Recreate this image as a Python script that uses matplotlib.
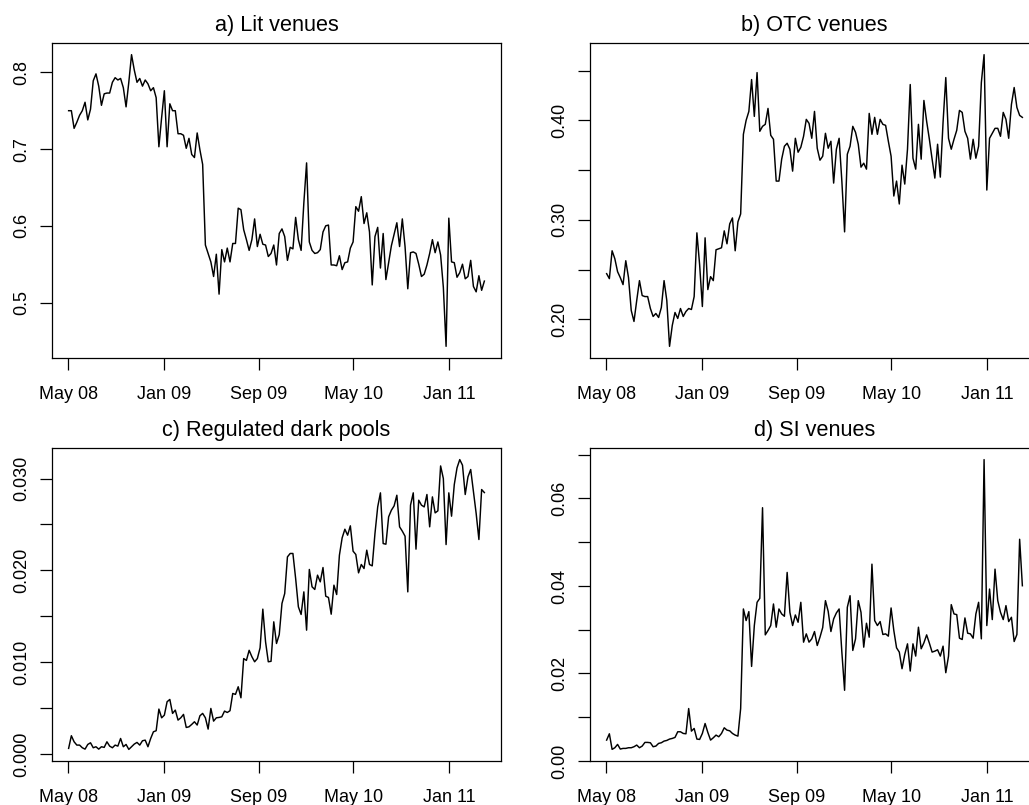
import numpy as np
import pandas as pd
import matplotlib
matplotlib.use("Agg")
import matplotlib.pyplot as plt
import matplotlib.transforms as mtransforms

plt.rcParams["font.family"] = ["Liberation Sans", "DejaVu Sans"]

# --- weekly market shares ---
lit = [0.750, 0.750, 0.727, 0.735, 0.744, 0.750, 0.761, 0.738, 0.752, 0.789,
       0.798, 0.782, 0.757, 0.772, 0.773, 0.773, 0.787, 0.793, 0.790, 0.792,
       0.780, 0.755, 0.787, 0.823, 0.803, 0.787, 0.792, 0.782, 0.790, 0.785,
       0.776, 0.780, 0.767, 0.703, 0.741, 0.776, 0.703, 0.759, 0.750, 0.750,
       0.720, 0.720, 0.718, 0.701, 0.714, 0.693, 0.689, 0.721, 0.699, 0.680,
       0.575, 0.564, 0.553, 0.534, 0.563, 0.511, 0.569, 0.553, 0.571, 0.553,
       0.577, 0.577, 0.623, 0.621, 0.595, 0.582, 0.568, 0.582, 0.609, 0.573,
       0.589, 0.576, 0.575, 0.560, 0.564, 0.575, 0.549, 0.590, 0.596, 0.586,
       0.555, 0.572, 0.570, 0.611, 0.582, 0.568, 0.630, 0.682, 0.579, 0.568,
       0.564, 0.565, 0.569, 0.592, 0.600, 0.601, 0.549, 0.549, 0.548, 0.561,
       0.543, 0.552, 0.553, 0.571, 0.579, 0.625, 0.619, 0.638, 0.603, 0.617,
       0.592, 0.523, 0.586, 0.598, 0.545, 0.590, 0.530, 0.552, 0.574, 0.589,
       0.604, 0.573, 0.609, 0.573, 0.518, 0.565, 0.566, 0.564, 0.550, 0.534,
       0.537, 0.549, 0.564, 0.582, 0.565, 0.579, 0.562, 0.520, 0.443, 0.610,
       0.553, 0.552, 0.533, 0.539, 0.550, 0.531, 0.534, 0.555, 0.521, 0.514,
       0.535, 0.516, 0.528]

otc = [0.246, 0.241, 0.269, 0.261, 0.248, 0.242, 0.235, 0.259, 0.242, 0.209,
       0.198, 0.219, 0.239, 0.224, 0.223, 0.223, 0.211, 0.203, 0.206, 0.202,
       0.212, 0.239, 0.219, 0.173, 0.194, 0.207, 0.201, 0.211, 0.203, 0.208,
       0.211, 0.210, 0.223, 0.287, 0.255, 0.213, 0.282, 0.230, 0.243, 0.239,
       0.270, 0.271, 0.272, 0.289, 0.276, 0.296, 0.302, 0.269, 0.298, 0.306,
       0.386, 0.400, 0.409, 0.441, 0.404, 0.448, 0.389, 0.394, 0.396, 0.412,
       0.385, 0.381, 0.339, 0.339, 0.361, 0.374, 0.377, 0.371, 0.349, 0.382,
       0.368, 0.373, 0.384, 0.401, 0.397, 0.382, 0.409, 0.372, 0.360, 0.364,
       0.387, 0.372, 0.379, 0.337, 0.371, 0.382, 0.339, 0.288, 0.366, 0.374,
       0.394, 0.388, 0.376, 0.353, 0.357, 0.351, 0.407, 0.386, 0.403, 0.386,
       0.401, 0.396, 0.395, 0.379, 0.364, 0.324, 0.339, 0.316, 0.355, 0.336,
       0.371, 0.436, 0.362, 0.351, 0.396, 0.361, 0.420, 0.399, 0.381, 0.361,
       0.342, 0.376, 0.343, 0.398, 0.443, 0.382, 0.371, 0.381, 0.390, 0.410,
       0.408, 0.389, 0.382, 0.361, 0.381, 0.362, 0.374, 0.438, 0.466, 0.330,
       0.382, 0.387, 0.392, 0.392, 0.384, 0.408, 0.401, 0.382, 0.416, 0.433,
       0.413, 0.405, 0.403]

dark = [0.00062, 0.00200, 0.00134, 0.00098, 0.00098, 0.00069, 0.00054, 0.00105, 0.00123, 0.00069,
        0.00080, 0.00054, 0.00080, 0.00073, 0.00134, 0.00087, 0.00069, 0.00098, 0.00087, 0.00170,
        0.00080, 0.00105, 0.00051, 0.00080, 0.00109, 0.00127, 0.00098, 0.00145, 0.00152, 0.00080,
        0.00170, 0.00243, 0.00254, 0.00490, 0.00395, 0.00424, 0.00570, 0.00595, 0.00443, 0.00479,
        0.00370, 0.00395, 0.00432, 0.00290, 0.00297, 0.00323, 0.00352, 0.00316, 0.00417, 0.00443,
        0.00395, 0.00272, 0.00497, 0.00359, 0.00395, 0.00399, 0.00406, 0.00468, 0.00453, 0.00472,
        0.00660, 0.00650, 0.00733, 0.00613, 0.01040, 0.01020, 0.01130, 0.01060, 0.01005, 0.01040,
        0.01157, 0.01578, 0.01222, 0.01005, 0.01010, 0.01440, 0.01204, 0.01300, 0.01640, 0.01748,
        0.02147, 0.02184, 0.02184, 0.01911, 0.01603, 0.01520, 0.01766, 0.01349, 0.02010, 0.01821,
        0.01792, 0.01948, 0.01875, 0.02031, 0.01719, 0.01705, 0.01523, 0.01839, 0.01737, 0.02165,
        0.02354, 0.02448, 0.02383, 0.02485, 0.02209, 0.02173, 0.01973, 0.02064, 0.02020, 0.02220,
        0.02064, 0.02049, 0.02401, 0.02691, 0.02844, 0.02292, 0.02285, 0.02583, 0.02655, 0.02702,
        0.02818, 0.02474, 0.02427, 0.02372, 0.01766, 0.02710, 0.02844, 0.02231, 0.02764, 0.02710,
        0.02691, 0.02826, 0.02474, 0.02800, 0.02626, 0.02648, 0.03137, 0.03000, 0.02281, 0.02844,
        0.02590, 0.02934, 0.03116, 0.03206, 0.03145, 0.02826, 0.03018, 0.03098, 0.02855, 0.02619,
        0.02336, 0.02880, 0.02847]

si = [0.00478, 0.00622, 0.00266, 0.00303, 0.00379, 0.00273, 0.00288, 0.00288, 0.00303, 0.00303,
      0.00326, 0.00364, 0.00303, 0.00341, 0.00425, 0.00425, 0.00417, 0.00326, 0.00341, 0.00402,
      0.00417, 0.00455, 0.00470, 0.00501, 0.00516, 0.00539, 0.00668, 0.00668, 0.00630, 0.00622,
      0.01199, 0.00683, 0.00744, 0.00501, 0.00493, 0.00630, 0.00857, 0.00653, 0.00478, 0.00531,
      0.00592, 0.00554, 0.00630, 0.00759, 0.00706, 0.00690, 0.00630, 0.00592, 0.00569, 0.01199,
      0.03475, 0.03210, 0.03414, 0.02162, 0.03096, 0.03627, 0.03718, 0.05789, 0.02883, 0.02982,
      0.03096, 0.03589, 0.03058, 0.03475, 0.03361, 0.03308, 0.04310, 0.03399, 0.03096, 0.03338,
      0.03171, 0.03627, 0.02716, 0.02906, 0.02716, 0.02792, 0.02959, 0.02640, 0.02830, 0.03050,
      0.03665, 0.03422, 0.02959, 0.03247, 0.03384, 0.03475, 0.02489, 0.01616, 0.03513, 0.03778,
      0.02527, 0.02792, 0.03665, 0.03399, 0.02602, 0.03149, 0.02830, 0.04499, 0.03210, 0.03096,
      0.03187, 0.02891, 0.02906, 0.02853, 0.03498, 0.02982, 0.02587, 0.02489, 0.02109, 0.02436,
      0.02678, 0.02056, 0.02678, 0.02398, 0.03058, 0.02565, 0.02701, 0.02883, 0.02693, 0.02489,
      0.02511, 0.02542, 0.02398, 0.02625, 0.02018, 0.02398, 0.03574, 0.03361, 0.03346, 0.02807,
      0.02777, 0.03270, 0.02921, 0.02906, 0.02807, 0.03361, 0.03627, 0.02792, 0.06889, 0.03096,
      0.03930, 0.03232, 0.04385, 0.03665, 0.03399, 0.03232, 0.03551, 0.03187, 0.03285, 0.02731,
      0.02891, 0.05068, 0.04006]

weeks = pd.date_range("2008-05-02", periods=len(lit), freq="7D")

xtick_dates = pd.to_datetime(["2008-05-01", "2009-01-01", "2009-09-01", "2010-05-01", "2011-01-01"])
xtick_labels = ["May 08", "Jan 09", "Sep 09", "May 10", "Jan 11"]

titles = ["a) Lit venues", "b) OTC venues", "c) Regulated dark pools", "d) SI venues"]
series = [lit, otc, dark, si]
ytick_major = [[0.5, 0.6, 0.7, 0.8], [0.20, 0.30, 0.40], [0.0, 0.01, 0.02, 0.03], [0.0, 0.02, 0.04, 0.06]]
ytick_labels = [["0.5", "0.6", "0.7", "0.8"], ["0.20", "0.30", "0.40"],
                ["0.000", "0.010", "0.020", "0.030"], ["0.00", "0.02", "0.04", "0.06"]]
ytick_minor = [[], [0.25, 0.35, 0.45], [0.005, 0.015, 0.025], [0.01, 0.03, 0.05, 0.07]]

W, H = 1029, 805
fig = plt.figure(figsize=(W / 100, H / 100), dpi=100)

# panel boxes in pixels: left, top, width, height (right column runs past the edge, as in the source)
boxes = [(52, 43, 449, 315), (590, 43, 449, 315), (52, 448, 449, 313), (590, 448, 449, 313)]

for k in range(4):
    l, t, w, h = boxes[k]
    ax = fig.add_axes([l / W, 1 - (t + h) / H, w / W, h / H])
    ax.plot(weeks, series[k], color="black", linewidth=1.05)
    ax.margins(x=0.04, y=0.04)
    lo, hi = ax.get_ylim()
    if k == 3:
        ax.set_ylim(min(lo, 0.0), hi)

    ax.set_xticks(xtick_dates)
    ax.set_xticklabels(xtick_labels)
    ax.set_yticks(ytick_major[k])
    ax.set_yticklabels(ytick_labels[k])
    ax.set_yticks(ytick_minor[k], minor=True)
    ax.tick_params(axis="both", which="both", direction="out", length=8.4, width=0.9,
                   labelsize=13, color="black")
    ax.tick_params(axis="x", pad=12)
    ax.tick_params(axis="y", pad=7, labelrotation=90)
    for lab in ax.get_yticklabels():
        lab.set_va("center")
    for sp in ax.spines.values():
        sp.set_linewidth(0.9)

    off = mtransforms.offset_copy(ax.transAxes, fig=fig, x=0, y=18 * 72 / 100, units="points")
    ax.text(0.5, 1.0, titles[k], transform=off, ha="center", va="center", fontsize=15.6)

fig.savefig("out.png", dpi=100)
